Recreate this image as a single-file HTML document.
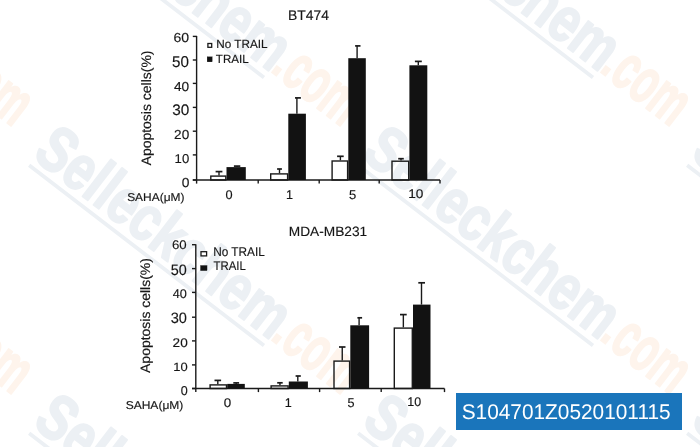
<!DOCTYPE html>
<html><head><meta charset="utf-8"><style>
html,body{margin:0;padding:0;background:#fff;}
body{width:700px;height:447px;overflow:hidden;position:relative;}
svg{position:absolute;left:0;top:0;will-change:transform;}
</style></head><body>
<svg width="700" height="447" viewBox="0 0 700 447" style="font-family:'Liberation Sans',Arial,Helvetica,sans-serif;text-rendering:geometricPrecision" fill="#161616">
<rect x="0" y="0" width="700" height="447" fill="#fff"/>
<g id="wm">
<g transform="translate(-55.40,-193.22) rotate(37.5)">
<rect x="-302" y="6.1" width="296" height="3.8" fill="rgb(236,240,244)"/>
<g transform="scale(0.77,1)">
<text x="-4.16" y="0" font-size="64" font-weight="bold" stroke-linejoin="round" text-anchor="end" fill="rgb(236,240,244)" stroke="rgb(236,240,244)" stroke-width="2.0" textLength="392.4" lengthAdjust="spacingAndGlyphs">Selleckchem</text>
<text x="0" y="0" font-size="64" font-weight="bold" text-anchor="middle" fill="rgb(254,244,236)">.</text>
<text x="8.00" y="0" font-size="64" font-weight="bold" stroke-linejoin="round" fill="rgb(254,244,236)" stroke="rgb(254,244,236)" stroke-width="2.0" textLength="104.4" lengthAdjust="spacingAndGlyphs">com</text>
</g></g>
<g transform="translate(-55.40,74.78) rotate(37.5)">
<rect x="-302" y="6.1" width="296" height="3.8" fill="rgb(236,240,244)"/>
<g transform="scale(0.77,1)">
<text x="-4.16" y="0" font-size="64" font-weight="bold" stroke-linejoin="round" text-anchor="end" fill="rgb(236,240,244)" stroke="rgb(236,240,244)" stroke-width="2.0" textLength="392.4" lengthAdjust="spacingAndGlyphs">Selleckchem</text>
<text x="0" y="0" font-size="64" font-weight="bold" text-anchor="middle" fill="rgb(254,244,236)">.</text>
<text x="8.00" y="0" font-size="64" font-weight="bold" stroke-linejoin="round" fill="rgb(254,244,236)" stroke="rgb(254,244,236)" stroke-width="2.0" textLength="104.4" lengthAdjust="spacingAndGlyphs">com</text>
</g></g>
<g transform="translate(-55.40,342.78) rotate(37.5)">
<rect x="-302" y="6.1" width="296" height="3.8" fill="rgb(236,240,244)"/>
<g transform="scale(0.77,1)">
<text x="-4.16" y="0" font-size="64" font-weight="bold" stroke-linejoin="round" text-anchor="end" fill="rgb(236,240,244)" stroke="rgb(236,240,244)" stroke-width="2.0" textLength="392.4" lengthAdjust="spacingAndGlyphs">Selleckchem</text>
<text x="0" y="0" font-size="64" font-weight="bold" text-anchor="middle" fill="rgb(254,244,236)">.</text>
<text x="8.00" y="0" font-size="64" font-weight="bold" stroke-linejoin="round" fill="rgb(254,244,236)" stroke="rgb(254,244,236)" stroke-width="2.0" textLength="104.4" lengthAdjust="spacingAndGlyphs">com</text>
</g></g>
<g transform="translate(-55.40,610.78) rotate(37.5)">
<rect x="-302" y="6.1" width="296" height="3.8" fill="rgb(236,240,244)"/>
<g transform="scale(0.77,1)">
<text x="-4.16" y="0" font-size="64" font-weight="bold" stroke-linejoin="round" text-anchor="end" fill="rgb(236,240,244)" stroke="rgb(236,240,244)" stroke-width="2.0" textLength="392.4" lengthAdjust="spacingAndGlyphs">Selleckchem</text>
<text x="0" y="0" font-size="64" font-weight="bold" text-anchor="middle" fill="rgb(254,244,236)">.</text>
<text x="8.00" y="0" font-size="64" font-weight="bold" stroke-linejoin="round" fill="rgb(254,244,236)" stroke="rgb(254,244,236)" stroke-width="2.0" textLength="104.4" lengthAdjust="spacingAndGlyphs">com</text>
</g></g>
<g transform="translate(273.60,-193.22) rotate(37.5)">
<rect x="-302" y="6.1" width="296" height="3.8" fill="rgb(236,240,244)"/>
<g transform="scale(0.77,1)">
<text x="-4.16" y="0" font-size="64" font-weight="bold" stroke-linejoin="round" text-anchor="end" fill="rgb(236,240,244)" stroke="rgb(236,240,244)" stroke-width="2.0" textLength="392.4" lengthAdjust="spacingAndGlyphs">Selleckchem</text>
<text x="0" y="0" font-size="64" font-weight="bold" text-anchor="middle" fill="rgb(254,244,236)">.</text>
<text x="8.00" y="0" font-size="64" font-weight="bold" stroke-linejoin="round" fill="rgb(254,244,236)" stroke="rgb(254,244,236)" stroke-width="2.0" textLength="104.4" lengthAdjust="spacingAndGlyphs">com</text>
</g></g>
<g transform="translate(273.60,74.78) rotate(37.5)">
<rect x="-302" y="6.1" width="296" height="3.8" fill="rgb(236,240,244)"/>
<g transform="scale(0.77,1)">
<text x="-4.16" y="0" font-size="64" font-weight="bold" stroke-linejoin="round" text-anchor="end" fill="rgb(236,240,244)" stroke="rgb(236,240,244)" stroke-width="2.0" textLength="392.4" lengthAdjust="spacingAndGlyphs">Selleckchem</text>
<text x="0" y="0" font-size="64" font-weight="bold" text-anchor="middle" fill="rgb(254,244,236)">.</text>
<text x="8.00" y="0" font-size="64" font-weight="bold" stroke-linejoin="round" fill="rgb(254,244,236)" stroke="rgb(254,244,236)" stroke-width="2.0" textLength="104.4" lengthAdjust="spacingAndGlyphs">com</text>
</g></g>
<g transform="translate(273.60,342.78) rotate(37.5)">
<rect x="-302" y="6.1" width="296" height="3.8" fill="rgb(236,240,244)"/>
<g transform="scale(0.77,1)">
<text x="-4.16" y="0" font-size="64" font-weight="bold" stroke-linejoin="round" text-anchor="end" fill="rgb(236,240,244)" stroke="rgb(236,240,244)" stroke-width="2.0" textLength="392.4" lengthAdjust="spacingAndGlyphs">Selleckchem</text>
<text x="0" y="0" font-size="64" font-weight="bold" text-anchor="middle" fill="rgb(254,244,236)">.</text>
<text x="8.00" y="0" font-size="64" font-weight="bold" stroke-linejoin="round" fill="rgb(254,244,236)" stroke="rgb(254,244,236)" stroke-width="2.0" textLength="104.4" lengthAdjust="spacingAndGlyphs">com</text>
</g></g>
<g transform="translate(273.60,610.78) rotate(37.5)">
<rect x="-302" y="6.1" width="296" height="3.8" fill="rgb(236,240,244)"/>
<g transform="scale(0.77,1)">
<text x="-4.16" y="0" font-size="64" font-weight="bold" stroke-linejoin="round" text-anchor="end" fill="rgb(236,240,244)" stroke="rgb(236,240,244)" stroke-width="2.0" textLength="392.4" lengthAdjust="spacingAndGlyphs">Selleckchem</text>
<text x="0" y="0" font-size="64" font-weight="bold" text-anchor="middle" fill="rgb(254,244,236)">.</text>
<text x="8.00" y="0" font-size="64" font-weight="bold" stroke-linejoin="round" fill="rgb(254,244,236)" stroke="rgb(254,244,236)" stroke-width="2.0" textLength="104.4" lengthAdjust="spacingAndGlyphs">com</text>
</g></g>
<g transform="translate(602.60,-193.22) rotate(37.5)">
<rect x="-302" y="6.1" width="296" height="3.8" fill="rgb(236,240,244)"/>
<g transform="scale(0.77,1)">
<text x="-4.16" y="0" font-size="64" font-weight="bold" stroke-linejoin="round" text-anchor="end" fill="rgb(236,240,244)" stroke="rgb(236,240,244)" stroke-width="2.0" textLength="392.4" lengthAdjust="spacingAndGlyphs">Selleckchem</text>
<text x="0" y="0" font-size="64" font-weight="bold" text-anchor="middle" fill="rgb(254,244,236)">.</text>
<text x="8.00" y="0" font-size="64" font-weight="bold" stroke-linejoin="round" fill="rgb(254,244,236)" stroke="rgb(254,244,236)" stroke-width="2.0" textLength="104.4" lengthAdjust="spacingAndGlyphs">com</text>
</g></g>
<g transform="translate(602.60,74.78) rotate(37.5)">
<rect x="-302" y="6.1" width="296" height="3.8" fill="rgb(236,240,244)"/>
<g transform="scale(0.77,1)">
<text x="-4.16" y="0" font-size="64" font-weight="bold" stroke-linejoin="round" text-anchor="end" fill="rgb(236,240,244)" stroke="rgb(236,240,244)" stroke-width="2.0" textLength="392.4" lengthAdjust="spacingAndGlyphs">Selleckchem</text>
<text x="0" y="0" font-size="64" font-weight="bold" text-anchor="middle" fill="rgb(254,244,236)">.</text>
<text x="8.00" y="0" font-size="64" font-weight="bold" stroke-linejoin="round" fill="rgb(254,244,236)" stroke="rgb(254,244,236)" stroke-width="2.0" textLength="104.4" lengthAdjust="spacingAndGlyphs">com</text>
</g></g>
<g transform="translate(602.60,342.78) rotate(37.5)">
<rect x="-302" y="6.1" width="296" height="3.8" fill="rgb(236,240,244)"/>
<g transform="scale(0.77,1)">
<text x="-4.16" y="0" font-size="64" font-weight="bold" stroke-linejoin="round" text-anchor="end" fill="rgb(236,240,244)" stroke="rgb(236,240,244)" stroke-width="2.0" textLength="392.4" lengthAdjust="spacingAndGlyphs">Selleckchem</text>
<text x="0" y="0" font-size="64" font-weight="bold" text-anchor="middle" fill="rgb(254,244,236)">.</text>
<text x="8.00" y="0" font-size="64" font-weight="bold" stroke-linejoin="round" fill="rgb(254,244,236)" stroke="rgb(254,244,236)" stroke-width="2.0" textLength="104.4" lengthAdjust="spacingAndGlyphs">com</text>
</g></g>
<g transform="translate(602.60,610.78) rotate(37.5)">
<rect x="-302" y="6.1" width="296" height="3.8" fill="rgb(236,240,244)"/>
<g transform="scale(0.77,1)">
<text x="-4.16" y="0" font-size="64" font-weight="bold" stroke-linejoin="round" text-anchor="end" fill="rgb(236,240,244)" stroke="rgb(236,240,244)" stroke-width="2.0" textLength="392.4" lengthAdjust="spacingAndGlyphs">Selleckchem</text>
<text x="0" y="0" font-size="64" font-weight="bold" text-anchor="middle" fill="rgb(254,244,236)">.</text>
<text x="8.00" y="0" font-size="64" font-weight="bold" stroke-linejoin="round" fill="rgb(254,244,236)" stroke="rgb(254,244,236)" stroke-width="2.0" textLength="104.4" lengthAdjust="spacingAndGlyphs">com</text>
</g></g>
<g transform="translate(931.60,-193.22) rotate(37.5)">
<rect x="-302" y="6.1" width="296" height="3.8" fill="rgb(236,240,244)"/>
<g transform="scale(0.77,1)">
<text x="-4.16" y="0" font-size="64" font-weight="bold" stroke-linejoin="round" text-anchor="end" fill="rgb(236,240,244)" stroke="rgb(236,240,244)" stroke-width="2.0" textLength="392.4" lengthAdjust="spacingAndGlyphs">Selleckchem</text>
<text x="0" y="0" font-size="64" font-weight="bold" text-anchor="middle" fill="rgb(254,244,236)">.</text>
<text x="8.00" y="0" font-size="64" font-weight="bold" stroke-linejoin="round" fill="rgb(254,244,236)" stroke="rgb(254,244,236)" stroke-width="2.0" textLength="104.4" lengthAdjust="spacingAndGlyphs">com</text>
</g></g>
<g transform="translate(931.60,74.78) rotate(37.5)">
<rect x="-302" y="6.1" width="296" height="3.8" fill="rgb(236,240,244)"/>
<g transform="scale(0.77,1)">
<text x="-4.16" y="0" font-size="64" font-weight="bold" stroke-linejoin="round" text-anchor="end" fill="rgb(236,240,244)" stroke="rgb(236,240,244)" stroke-width="2.0" textLength="392.4" lengthAdjust="spacingAndGlyphs">Selleckchem</text>
<text x="0" y="0" font-size="64" font-weight="bold" text-anchor="middle" fill="rgb(254,244,236)">.</text>
<text x="8.00" y="0" font-size="64" font-weight="bold" stroke-linejoin="round" fill="rgb(254,244,236)" stroke="rgb(254,244,236)" stroke-width="2.0" textLength="104.4" lengthAdjust="spacingAndGlyphs">com</text>
</g></g>
<g transform="translate(931.60,342.78) rotate(37.5)">
<rect x="-302" y="6.1" width="296" height="3.8" fill="rgb(236,240,244)"/>
<g transform="scale(0.77,1)">
<text x="-4.16" y="0" font-size="64" font-weight="bold" stroke-linejoin="round" text-anchor="end" fill="rgb(236,240,244)" stroke="rgb(236,240,244)" stroke-width="2.0" textLength="392.4" lengthAdjust="spacingAndGlyphs">Selleckchem</text>
<text x="0" y="0" font-size="64" font-weight="bold" text-anchor="middle" fill="rgb(254,244,236)">.</text>
<text x="8.00" y="0" font-size="64" font-weight="bold" stroke-linejoin="round" fill="rgb(254,244,236)" stroke="rgb(254,244,236)" stroke-width="2.0" textLength="104.4" lengthAdjust="spacingAndGlyphs">com</text>
</g></g>
<g transform="translate(931.60,610.78) rotate(37.5)">
<rect x="-302" y="6.1" width="296" height="3.8" fill="rgb(236,240,244)"/>
<g transform="scale(0.77,1)">
<text x="-4.16" y="0" font-size="64" font-weight="bold" stroke-linejoin="round" text-anchor="end" fill="rgb(236,240,244)" stroke="rgb(236,240,244)" stroke-width="2.0" textLength="392.4" lengthAdjust="spacingAndGlyphs">Selleckchem</text>
<text x="0" y="0" font-size="64" font-weight="bold" text-anchor="middle" fill="rgb(254,244,236)">.</text>
<text x="8.00" y="0" font-size="64" font-weight="bold" stroke-linejoin="round" fill="rgb(254,244,236)" stroke="rgb(254,244,236)" stroke-width="2.0" textLength="104.4" lengthAdjust="spacingAndGlyphs">com</text>
</g></g>
</g>
<g id="chart">
<line x1="196.6" y1="35.9" x2="196.6" y2="183.6" stroke="#1a1a1a" stroke-width="1.4"/>
<line x1="192.8" y1="180" x2="196.6" y2="180" stroke="#1a1a1a" stroke-width="1.4"/>
<line x1="192.8" y1="154.9" x2="196.6" y2="154.9" stroke="#1a1a1a" stroke-width="1.4"/>
<line x1="192.8" y1="131.2" x2="196.6" y2="131.2" stroke="#1a1a1a" stroke-width="1.4"/>
<line x1="192.8" y1="107.4" x2="196.6" y2="107.4" stroke="#1a1a1a" stroke-width="1.4"/>
<line x1="192.8" y1="83.4" x2="196.6" y2="83.4" stroke="#1a1a1a" stroke-width="1.4"/>
<line x1="192.8" y1="60" x2="196.6" y2="60" stroke="#1a1a1a" stroke-width="1.4"/>
<line x1="192.8" y1="36.4" x2="196.6" y2="36.4" stroke="#1a1a1a" stroke-width="1.4"/>
<line x1="192.8" y1="180" x2="440" y2="180" stroke="#1a1a1a" stroke-width="1.4"/>
<line x1="258.2" y1="180" x2="258.2" y2="183.6" stroke="#1a1a1a" stroke-width="1.4"/>
<line x1="319.2" y1="180" x2="319.2" y2="183.6" stroke="#1a1a1a" stroke-width="1.4"/>
<line x1="379.2" y1="180" x2="379.2" y2="183.6" stroke="#1a1a1a" stroke-width="1.4"/>
<line x1="440" y1="180" x2="440" y2="183.6" stroke="#1a1a1a" stroke-width="1.4"/>
<rect x="210.8" y="176.1" width="15" height="3.9" fill="none" stroke="#1a1a1a" stroke-width="1.4"/>
<line x1="219.0" y1="175.4" x2="219.0" y2="171.6" stroke="#1a1a1a" stroke-width="1.4"/>
<line x1="215.6" y1="171.6" x2="222.4" y2="171.6" stroke="#1a1a1a" stroke-width="1.7"/>
<rect x="226.5" y="167.1" width="19.3" height="12.9" fill="#121212"/>
<line x1="237.1" y1="167.1" x2="237.1" y2="166.1" stroke="#1a1a1a" stroke-width="1.4"/>
<line x1="233.9" y1="166.1" x2="240.3" y2="166.1" stroke="#1a1a1a" stroke-width="1.7"/>
<rect x="270.7" y="173.9" width="16.9" height="6.1" fill="none" stroke="#1a1a1a" stroke-width="1.4"/>
<line x1="279.5" y1="173.2" x2="279.5" y2="169.0" stroke="#1a1a1a" stroke-width="1.4"/>
<line x1="277.1" y1="169.0" x2="281.9" y2="169.0" stroke="#1a1a1a" stroke-width="1.7"/>
<rect x="288.3" y="113.7" width="17.6" height="66.3" fill="#121212"/>
<line x1="296.9" y1="113.7" x2="296.9" y2="97.9" stroke="#1a1a1a" stroke-width="1.4"/>
<line x1="295.0" y1="97.9" x2="300.9" y2="97.9" stroke="#1a1a1a" stroke-width="1.7"/>
<rect x="332.1" y="161.0" width="15.5" height="19" fill="none" stroke="#1a1a1a" stroke-width="1.4"/>
<line x1="340.4" y1="160.3" x2="340.4" y2="156.3" stroke="#1a1a1a" stroke-width="1.4"/>
<line x1="337.1" y1="156.3" x2="343.7" y2="156.3" stroke="#1a1a1a" stroke-width="1.7"/>
<rect x="348.3" y="58.2" width="17.5" height="121.8" fill="#121212"/>
<line x1="357.1" y1="58.2" x2="357.1" y2="45.9" stroke="#1a1a1a" stroke-width="1.4"/>
<line x1="355.1" y1="45.9" x2="360.5" y2="45.9" stroke="#1a1a1a" stroke-width="1.7"/>
<rect x="392.0" y="161.2" width="16.7" height="18.8" fill="none" stroke="#1a1a1a" stroke-width="1.4"/>
<line x1="401.0" y1="160.5" x2="401.0" y2="158.7" stroke="#1a1a1a" stroke-width="1.4"/>
<line x1="398.2" y1="158.7" x2="403.8" y2="158.7" stroke="#1a1a1a" stroke-width="1.7"/>
<rect x="409.4" y="65.3" width="17.9" height="114.7" fill="#121212"/>
<line x1="418.3" y1="65.3" x2="418.3" y2="61.4" stroke="#1a1a1a" stroke-width="1.4"/>
<line x1="414.9" y1="61.4" x2="421.8" y2="61.4" stroke="#1a1a1a" stroke-width="1.7"/>
<line x1="195.8" y1="244.2" x2="195.8" y2="392.1" stroke="#1a1a1a" stroke-width="1.4"/>
<line x1="192.0" y1="388.5" x2="195.8" y2="388.5" stroke="#1a1a1a" stroke-width="1.4"/>
<line x1="192.0" y1="364.9" x2="195.8" y2="364.9" stroke="#1a1a1a" stroke-width="1.4"/>
<line x1="192.0" y1="340.9" x2="195.8" y2="340.9" stroke="#1a1a1a" stroke-width="1.4"/>
<line x1="192.0" y1="317.2" x2="195.8" y2="317.2" stroke="#1a1a1a" stroke-width="1.4"/>
<line x1="192.0" y1="292.4" x2="195.8" y2="292.4" stroke="#1a1a1a" stroke-width="1.4"/>
<line x1="192.0" y1="268.6" x2="195.8" y2="268.6" stroke="#1a1a1a" stroke-width="1.4"/>
<line x1="192.0" y1="244.7" x2="195.8" y2="244.7" stroke="#1a1a1a" stroke-width="1.4"/>
<line x1="192.0" y1="388.5" x2="444.5" y2="388.5" stroke="#1a1a1a" stroke-width="1.4"/>
<line x1="258.4" y1="388.5" x2="258.4" y2="392.1" stroke="#1a1a1a" stroke-width="1.4"/>
<line x1="319.6" y1="388.5" x2="319.6" y2="392.1" stroke="#1a1a1a" stroke-width="1.4"/>
<line x1="381.2" y1="388.5" x2="381.2" y2="392.1" stroke="#1a1a1a" stroke-width="1.4"/>
<line x1="444.5" y1="388.5" x2="444.5" y2="392.1" stroke="#1a1a1a" stroke-width="1.4"/>
<rect x="210.1" y="384.9" width="16.4" height="3.6" fill="none" stroke="#1a1a1a" stroke-width="1.4"/>
<line x1="217.8" y1="384.2" x2="217.8" y2="380.4" stroke="#1a1a1a" stroke-width="1.4"/>
<line x1="214.5" y1="380.4" x2="221.1" y2="380.4" stroke="#1a1a1a" stroke-width="1.7"/>
<rect x="227.2" y="383.9" width="17.6" height="4.6" fill="#121212"/>
<line x1="236.2" y1="383.9" x2="236.2" y2="382.9" stroke="#1a1a1a" stroke-width="1.4"/>
<line x1="233.3" y1="382.9" x2="239.1" y2="382.9" stroke="#1a1a1a" stroke-width="1.7"/>
<rect x="271.1" y="385.9" width="17" height="2.6" fill="none" stroke="#1a1a1a" stroke-width="1.4"/>
<line x1="279.95" y1="385.2" x2="279.95" y2="382.8" stroke="#1a1a1a" stroke-width="1.4"/>
<line x1="277.2" y1="382.8" x2="282.7" y2="382.8" stroke="#1a1a1a" stroke-width="1.7"/>
<rect x="288.8" y="381.5" width="19.1" height="7.0" fill="#121212"/>
<line x1="297.8" y1="381.5" x2="297.8" y2="376.0" stroke="#1a1a1a" stroke-width="1.4"/>
<line x1="295.6" y1="376.0" x2="300.8" y2="376.0" stroke="#1a1a1a" stroke-width="1.7"/>
<rect x="334.0" y="361.1" width="15.6" height="27.4" fill="none" stroke="#1a1a1a" stroke-width="1.4"/>
<line x1="342.25" y1="360.4" x2="342.25" y2="347.0" stroke="#1a1a1a" stroke-width="1.4"/>
<line x1="339.0" y1="347.0" x2="345.5" y2="347.0" stroke="#1a1a1a" stroke-width="1.7"/>
<rect x="350.3" y="325.3" width="18.8" height="63.2" fill="#121212"/>
<line x1="359.1" y1="325.3" x2="359.1" y2="317.8" stroke="#1a1a1a" stroke-width="1.4"/>
<line x1="357.4" y1="317.8" x2="362.1" y2="317.8" stroke="#1a1a1a" stroke-width="1.7"/>
<rect x="394.3" y="328.1" width="18" height="60.4" fill="none" stroke="#1a1a1a" stroke-width="1.4"/>
<line x1="403.35" y1="327.4" x2="403.35" y2="314.6" stroke="#1a1a1a" stroke-width="1.4"/>
<line x1="400.0" y1="314.6" x2="406.7" y2="314.6" stroke="#1a1a1a" stroke-width="1.7"/>
<rect x="413.0" y="304.6" width="17.5" height="83.9" fill="#121212"/>
<line x1="421.5" y1="304.6" x2="421.5" y2="282.8" stroke="#1a1a1a" stroke-width="1.4"/>
<line x1="418.3" y1="282.8" x2="425.0" y2="282.8" stroke="#1a1a1a" stroke-width="1.7"/>
</g>
<g id="text" stroke="#161616" stroke-width="0.15">
<text x="288.06" y="20.0" font-size="14" textLength="40.95" lengthAdjust="spacingAndGlyphs">BT474</text>
<text x="288.78" y="236.2" font-size="13.5" textLength="78.39" lengthAdjust="spacingAndGlyphs">MDA-MB231</text>
<text x="173.48" y="42.3" font-size="13.0" textLength="15.67" lengthAdjust="spacingAndGlyphs">60</text>
<text x="171.99" y="67.4" font-size="15.6" textLength="16.90" lengthAdjust="spacingAndGlyphs">50</text>
<text x="173.99" y="90.9" font-size="13.0" textLength="15.25" lengthAdjust="spacingAndGlyphs">40</text>
<text x="172.22" y="115.2" font-size="15.3" textLength="17.08" lengthAdjust="spacingAndGlyphs">30</text>
<text x="174.12" y="139.3" font-size="13.0" textLength="15.11" lengthAdjust="spacingAndGlyphs">20</text>
<text x="174.60" y="163.3" font-size="12.8" textLength="14.61" lengthAdjust="spacingAndGlyphs">10</text>
<text x="181.76" y="186.9" font-size="13.0" textLength="7.68" lengthAdjust="spacingAndGlyphs">0</text>
<text x="172.03" y="249.2" font-size="12.4" textLength="14.69" lengthAdjust="spacingAndGlyphs">60</text>
<text x="170.72" y="274.6" font-size="15.0" textLength="16.04" lengthAdjust="spacingAndGlyphs">50</text>
<text x="172.81" y="298.4" font-size="12.6" textLength="14.09" lengthAdjust="spacingAndGlyphs">40</text>
<text x="170.74" y="322.9" font-size="15.0" textLength="16.23" lengthAdjust="spacingAndGlyphs">30</text>
<text x="172.62" y="346.8" font-size="12.6" textLength="15.11" lengthAdjust="spacingAndGlyphs">20</text>
<text x="173.31" y="370.7" font-size="12.0" textLength="14.39" lengthAdjust="spacingAndGlyphs">10</text>
<text x="180.71" y="395.3" font-size="12.9" textLength="6.98" lengthAdjust="spacingAndGlyphs">0</text>
<text x="286.07" y="198.9" font-size="12.6">1</text>
<text x="284.87" y="406.6" font-size="12.6">1</text>
<text x="225.50" y="198.8" font-size="12.6" textLength="7.10" lengthAdjust="spacingAndGlyphs">0</text>
<text x="349.08" y="198.8" font-size="12.6" textLength="7.27" lengthAdjust="spacingAndGlyphs">5</text>
<text x="408.16" y="198.0" font-size="12.6" textLength="15.17" lengthAdjust="spacingAndGlyphs">10</text>
<text x="223.88" y="406.5" font-size="12.6" textLength="7.45" lengthAdjust="spacingAndGlyphs">0</text>
<text x="347.49" y="406.6" font-size="12.6" textLength="7.04" lengthAdjust="spacingAndGlyphs">5</text>
<text x="407.35" y="406.3" font-size="12.6" textLength="13.83" lengthAdjust="spacingAndGlyphs">10</text>
<text x="127.16" y="201.0" font-size="11.4" textLength="57.28" lengthAdjust="spacingAndGlyphs">SAHA(μM)</text>
<text x="125.65" y="408.5" font-size="11.4" textLength="57.69" lengthAdjust="spacingAndGlyphs">SAHA(μM)</text>
<text transform="translate(151.0,165.7) rotate(-90)" x="0.27" y="0" font-size="13.6" textLength="114.94" lengthAdjust="spacingAndGlyphs">Apoptosis cells(%)</text>
<text transform="translate(149.7,373.2) rotate(-90)" x="0.27" y="0" font-size="13.6" textLength="114.79" lengthAdjust="spacingAndGlyphs">Apoptosis cells(%)</text>
<rect x="207.9" y="43.5" width="3.8" height="3.8" fill="#fff" stroke="#1a1a1a" stroke-width="1.3"/>
<rect x="207.1" y="56.7" width="5.2" height="5.2" fill="#121212"/>
<text x="216.24" y="47.8" font-size="11.8" textLength="51.25" lengthAdjust="spacingAndGlyphs">No TRAIL</text>
<text x="215.84" y="63.0" font-size="11.8" textLength="32.85" lengthAdjust="spacingAndGlyphs">TRAIL</text>
<rect x="201.0" y="251.7" width="5.6" height="4.2" fill="#fff" stroke="#1a1a1a" stroke-width="1.3"/>
<rect x="200.4" y="265.4" width="6.7" height="5.3" fill="#121212"/>
<text x="213.13" y="255.5" font-size="12.7" textLength="51.66" lengthAdjust="spacingAndGlyphs">No TRAIL</text>
<text x="213.44" y="270.1" font-size="12.5" textLength="32.34" lengthAdjust="spacingAndGlyphs">TRAIL</text>
</g>
<rect x="456" y="393" width="226" height="37" fill="#1a75bb"/>
<text x="461.7" y="418.7" font-size="21.3" fill="#fff" textLength="208.9" lengthAdjust="spacingAndGlyphs">S104701Z0520101115</text>
</svg>
</body></html>
